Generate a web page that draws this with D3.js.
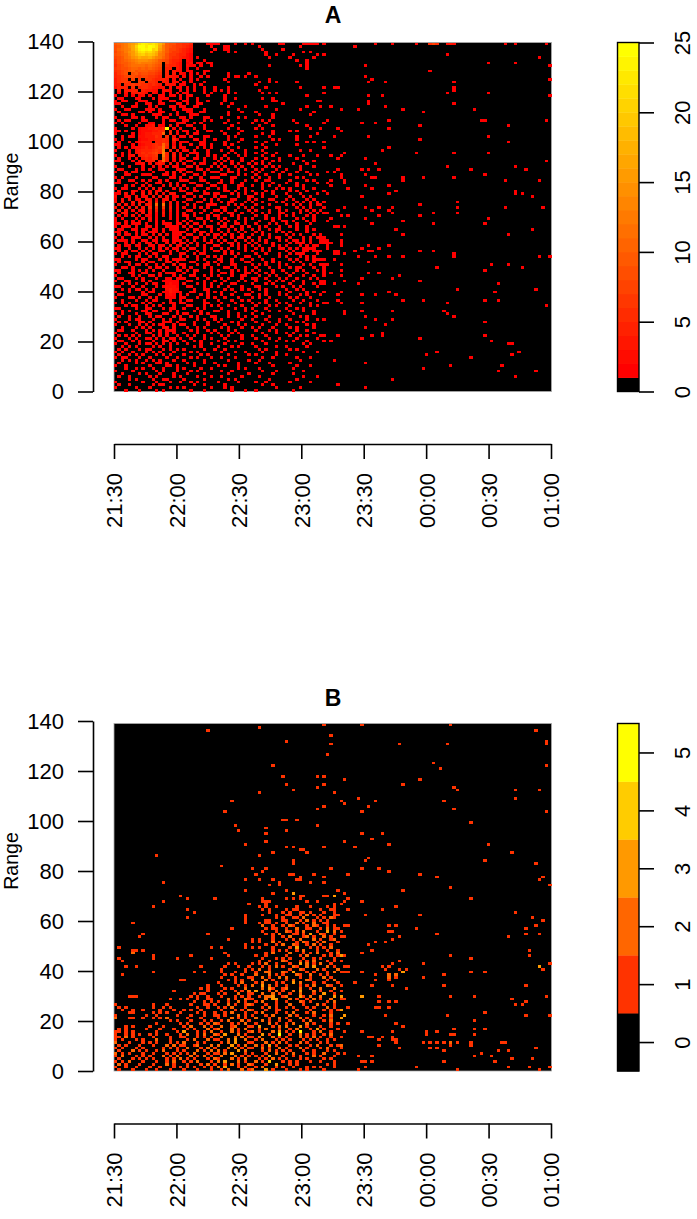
<!DOCTYPE html>
<html>
<head>
<meta charset="utf-8">
<script src="https://cdn.jsdelivr.net/npm/d3@7"></script>
<style>
  html, body { margin: 0; padding: 0; background: #fff; }
  text { font-family: "Liberation Sans", Arial, sans-serif; fill: #000; }
</style>
</head>
<body>
<div id="root"></div>
<script>
const timeLabels = ['21:30', '22:00', '22:30', '23:00', '23:30', '00:00', '00:30', '01:00']
const rangeTicks = [0, 20, 40, 60, 80, 100, 120, 140]
const legendTicksA = [0, 5, 10, 15, 20, 25]
const legendTicksB = [0, 1, 2, 3, 4, 5]
const GRID = 128

// counts per time bin, top row first, '.' = 0, a = 10 ... p = 25. spaces are only for reading
const leftA = [
'9abcefhlnm lmkhe98866 554....111 1....1..1. 1.......11 .....11111',
'89bcegkpom pnlgc98766 543.....1. ..11...... ..1....... ....1.....',
'8abcdgjnpn oklfc97765 432......1 ..11...... ...1.....1 ..........',
'79acefilmk ljhdb97665 432.....1. ...1.1.... ....1..... .....1.1..',
'89abdfhjki jigcb86654 421....... .......... ....1..1.. ..1......1',
'789bcefhgg hfdca86554 321.1..... .......... .....1.... .1......1.',
'689abcdeee dcb9875443 .21...1... .......... .......... ...1..1...',
'6899abcdcc cba9.75432 .12.11.11. .......... .......... ......1...',
'5789abbbba ba98.54432 .211.1..1. .......... .....1.... ....1.1...',
'67889aa9a9 a987.44.32 .1..1..... .......... .......... ......1...',
'56789a8999 8876.4.322 .21...11.. .......... .......... ..........',
'4678.89788 7765.4.3.2 1.1.1.1... ...1.....1 .......... ..........',
'4567787677 6654.4322. 2.1..1.1.. ...1.11.1. .1........ ..........',
'3566.7.6.6 654443.2.1 ..1.1..... ..1....... .....1.... ..........',
'35665..66. 554.33.22. 1.1...1... ...1...... ..1..1.1.. ...1......',
'34.5565655 4543.322.1 1..1.1.... .......... .1........ ..........',
'2444.5.455 43322.2.11 .1.1..1..1 ...1...... ....1..... ....1.....',
'.3.3344.43 322.221..1 .1.1..1..1 .1.1...... ..1....... ..........',
'.1.2.33432 .21.1.1.1. 11....1.1. ...1.1.... ...1.1.1.. ..........',
'1..1.1.12. 1..11.11.1 .11....1.. ..1....... .......... ......1...',
'.11...11.. .1.111...1 .1..1..... ..1..1.... ...1..1... ..........',
'1.11...111 ...1..11.. 11..1..1.. ..1....... ......11.. .........1',
'11....1..1 1..11...11 .1..11.... .1..1..... .........1 ..........',
'..1..11... 1.1...11.1 1..11..... ...1....1. ....1..... ......1...',
'1..11....1 11.1...1.. 111...1... ......1... .......1.. ....1.....',
'.1.....11. 1..11...1. .11..11... ...1...1.. .1........ ........1.',
'..11.1.... .111..1.1. ..111..... ...1...... ..1...1... .......1..',
'1....11.1. ..1.11...1 1.1...11.. .1....1.1. ......1... ..........',
'.1.11...11 ....1.11.. 11....1.1. ...1...... .1.1.1.... ..1.......',
'1.1....1.. 11..1...11 1..1.1.... ..1...1... 1...1..... ...1......',
'...1..1..2 23.11.2.1. .11...1... ....1..... ..1...1... ......1...',
'1....1.122 33434o.1.1 ...1..1... ...1..1... .1.1...... .......1..',
'11.1...122 23345.4.1. 11..1..11. .1.....1.. ......1... .1.1......',
'1....1.123 3444a.4.1. .1.11..... ..1...1... ...1..1... .........1',
'..1.11.223 3354.5.2.1 1.1...11.. ...1.1.... .1...1.... ...1...1..',
'1.1....122 334454.41. ...11.1..1 ...1...1.. ......1.1. ...1......',
'.1..1.1233 3.4454.2.1 11...11... ..1...1... .1..1..... ......1.1.',
'11...1.123 3454a5.1.1 ..1..11.1. ..1.1..... ...1...1.. ...1......',
'.1.1.12234 3456b4.3.1 1...1.1.1. ...1..1... .1..1..... ..........',
'1...1.2344 4565c.3.2. 11.1...1.. .1..1...1. ...1...... ....1..1..',
'..1.1.2354 5674d4.2.1 ..111..1.. ...1.1..1. .1..1..1.. ..........',
'1.1.22.345 456.c4.3.1 .1..1..1.1 ..1...1.1. ...1..1... .1...1...1',
'.1..1.1.34 355.a4.2.1 1..11.1..1 .1.1...1.. .1..1...1. ...1......',
'11...1.2.3 34.3a3.1.1 .11...1... 1.1.1..1.. 1..1..1.1. .....1..1.',
'..1...112. 2.132.2.1. 1..1.11..1 .1..1.1..1 .1.1.1.... ..1...1...',
'1...1...1. .1.1.1.11. .11.1...1. 1.1..1.1.. 1...1.1.1. ....1...1.',
'.11...1.1. 1..11...11 1...11.1.. .1.1..1.1. .1.1...1.. 1...1.....',
'1..1.11... .1...1.2.1 .11...1.11 1..11.1... 1.1...1..1 ...1..1...',
'...11...11 1...11.1.. 1..11.1... .11...1.1. .1..1...1. .1.....1.1',
'1.1...1... .11...11.1 ..1..1..11 1...11.... 1.1..1..1. ...1.1....',
'.1..11..1. 1..1.1...1 11...11... .1..1...1. .1..11.... .1....1.1.',
'11....1..1 ..11..1.1. ..11...1.. 11..1..1.. ...1..1... 1..1.....1',
'...1.1..1. 1...1.2.1. 1...11..11 ..1...11.. 1..1.1..1. ...1.1....',
'1.11...1.1 .2.1...1.1 .1.1...1.. 1.1...1.1. ...1...1.1 .1...1..1.',
'.2...21.1. 1.12.2...1 1..11.1... ..11.1..1. 1...1.1... .1.1..1...',
'11.2.1..2. 2.2.1.22.. .11...11.1 1...1.1.1. .1.1..1... 1...1....1',
'2..11.2.12 .2.2.2.11. 1..1.1...1 .11...1..1 1..1...1.. .1...1.1..',
'1.2.2.11.2 2.1.22.1.. .11...1.1. 1...11...1 .1...11... 1.1...1.1.',
'2.2..3.21. 3.3.3.2.1. 1...11..1. .1.11...1. 1..1...1.1 ...1.1.1.1',
'.2.2.1.3.2 3.a.b.2.1. .1.1...111 ...1.1.1.. .1...1.... 1.1.1..1.1',
'2.1.2.3.2. 5.5.6.3.1. 1..1.1.1.. .11...1.1. 1..1...11. ...1.1.1..',
'.3.2.1.12. 2.3.2.2.1. .11...1..1 1.1..1...1 .1...1..1. 1...1.1.1.',
'1.22..1.2. 2.1.3.1.1. 1..1.1..1. .1.11..1.. 1..1.1..11 ..1.1..1.1',
'.1.1.2.1.1 1.1.2.1.1. 11.1...1.1 1...1.1... .1..1...1. 1.1...1.1.',
'1.1...1.1. 2.1...1.1. .1..11.1.. 1.1...1.1. 1...1.1.1. ...1.1..1.',
'1..1.1.1.. 1.1.1...1. 1.1...1.1. .1.1.1..1. ..1...1..1 1.1...1.1.',
'11.1.111.1 ..1.111.11 .1.11.1... 1.1..11.1. .1...1.1.. 1..1...1..',
'1.111.1..1 1.1..1111. 1.1..1.11. .11.1..1.1 ..1.1...1. .1.1..1...',
'.11..11.11 .11.1.111. .1.11...1. 1..1.1.1.. 1.1..1.11. ...1..1.1.',
'11.1..1.1. 111.1..111 1..1.11.1. .1.1..1.1. .1.1...1.1 .1....1...',
'.1.11.1.11 .1.2.1.111 .11..1.1.1 1.1.1..1.. 1..1.1.... 1.1.1...1.',
'1.1..111.. 1.1.1..11. 1..11.1..1 .1..1.11.1 ..1..1.11. .1...1.1.1',
'.111.1..11 .11.11.111 .1.1..1.1. 1.1..1..1. 1.1.1...1. 1.11.1.1..',
'1..1.1.1.1 1.1..1.1.1 1.1.1..11. .1.11.1..1 .1..1.1... .1.111.1..',
'.1.11.11.. 11.11.2.11 .1..1.1..1 1...1.1.1. 1.1...1.1. 1...1.1.11',
'11..1..1.1 .1.1.1.11. 1.11..1.1. .1.1..1.1. .1.1.1..11 .1.1.1111.',
'.1.1.11.1. 1..11.1.1. .1..1.1..1 1.1.1...1. 1..1.1.... 1.1..11.11',
'1.11...1.1 .11...1..1 1..1.11... ..1.1.1... .1..1...1. .1.111...1',
'..1.1.11.. 1.1.11...1 .1..1..1.1 .1...1..11 ..1.....1. 1...1.1.1.',
'11....1.11 ...2.1.111 1...1.1... 11..1..1.. 1..1..1... .1.1..1.11',
'.1.11...1. 11...11.1. ..11...1.1 .1..1...11 ....1.1.1. ..1.1...1.',
'1...1.11.1 ..1.1..2.1 1...1.11.. 1...11.... 1.1.1...1. 1....1.1..',
'..11.1.... 1.11.1..1. 1.1...1.1. ..11.1..1. .1...1..1. .1.11...1.',
'11...1.1.1 .1..1...11 .1.11...1. 1...1.1.1. 1.1...1..1 ...1.1...1',
'.1..11..11 ...1.111.. 1..1....1. .11.1...11 .1..1.1... 1.1...1...',
'1....1.1.. 11.1...1.1 ..11..1.1. 1...1..11. ..1..1.1.. .1...1..1.',
'.11...1.1. ..1..11.11 1...1..1.. .1.1...1.. 11..1...1. 1..1...1.1',
'1..11...1. 1...11111. .11...1..1 ..1...1.1. .1...1.1.1 ..1..1....',
'..1.1.1..1 .11..1211. 1...1.1.1. .1..11.... 1...1.1... .1...1..1.',
'11...1..1. ..1.12221. .11...1.1. 1..1...1.. .11....1.1 ..1.1....1',
'..1.1.11.1 .1...2322 ....1..11. ...1.1..1. 1..1.1.... .1..1.1...',
'1...1...1. 11..11321 1..11...1. 1.1...1... .1...1...1 ..1....1.1',
'.11.....11 ...1.121.1 .1...1.1.. .1..1...11 ..1.1...1. 1...1.1...',
'1...11.1.. 1.1..111.1 1...1..1.1 ..1...1... 1.1..1.... .1.1...1..',
'..1...1..1 .11...1..1 .11...1... 1...1..1.1 ....1..1.. ..1..1...1',
'1.1.1...1. 1...1.11.1 1.....11.. .1...1.... 1.1.1...1. 1...1..1..',
'...1.11..1 .1.1...1.. .11...1.1. 1..1...1.. .1...1.1.. .1.....1.1',
'11....1..1 1...1.11.. 1...1.1... .1...1..1. 1...1..... 1..1.1....',
'..1.1...11 .11...1.1. ...1.1...1 1..1....1. .1...1..1. .1...1..1.',
'1.1...1..1 1...11..1. 11...1.1.. ...1..1... 1..1...... ..1.....1.',
'.1..1..1.. 1.11...1.1 ..1.1...11 ...1..1.1. .1...1.... 1...1.1...',
'1...1.11.. .1..1.1..1 1...1.1..1 .1.....1.. 1...1...1. .1....1..1',
'.1.1...11. 1...111.1. ...1...1.. 1...1.1... .1...1..1. ...1.1....',
'1...1..1.1 .1.11..1.1 1..1...1.. ..1...1.1. ...1...1.. 1.....1.1.',
'..1...1.1. 1...12.1.. .1..1.1... .1.1...1.. 1.1...1... .1.1....1.',
'.11..1...1 .1.1.111.. ..1.1..1.1 ...1.1.... .1...1.1.. ...1..1...',
'1.....1..1 1..1.1.1.. 1...1...1. 1...1.1... ...1...1.. 1.1.....1.',
'.1.1.1.1.. .1.1.1..1. .1.1..1... .1.1...1.. 1...1..... .1..1.1...',
'1...1.1..1 1.1.1.11.1 ..1...1.1. ..1....1.. .1...1..1. ...1.....1',
'.11..1.1.. .1..12.1.. 1..1.1.... 1..1.1.... ...1...1.. 1.1...1...',
'1..1...1.1 1.1.1.1.1. .1...1..1. ..1....1.. 1...1..... .....1.1..',
'..1.1.1... .1.1..1... ...1.1.... 1...1.1... .1.....1.. 1.....1...',
'.1.1...1.1 1...1.1.1. 1.....1..1 ..1....... ..1.1..... .1.1......',
'1.1..1...1 .1.1...1.. ..1.1..... .1...1..1. ...1...1.. .....1...1',
'.1..1.1.1. ..1.1.1... 1....1.1.. ...1.....1 .1.....1.. 1.........',
'1.11...1.. 1....1..1. ..1.1...1. .1...1.... ...1..1... ...1...1..',
'..1.1.1..1 .1.1...1.. 1.....1... ...1.....1 ..1....... ....1.....',
'.1....1.1. ..11.1.... .1.1..1..1 ......1... .1...1.... .1........',
'1..1...... 1....11.1. ...1...... 1.1...1... ......1... ...1...1..',
'...1..1.1. .1..1...1. 1....1..1. ......1.1. ..1....... ..1.......',
'1....1.... ..1.1...1. ..1.1..... .1..1..... ...1...1.. .....1....',
'..1....1.1 ...1...1.. .1....1... ...1.....1 ......1... ..1.......',
'.1..1..... 1.1....1.1 ....1...1. .1.....1.. ..1....... .....1...1',
'....1.1... .1..11.... 1.....1... ...1.1.... .....1.... ...1......',
'1.......1. ..1...1..1 ..1.1..... 1.....1... .1..1..... .1.....1..',
'.1..1..... .1.11..... ...1..1... ..1....... ...1..1... ..........',
'1.....1... 1.....1.1. 1.......1. ..1.1..... .......1.. ....1.....',
'...1...1.. ..1.1..... ..1...1... ....1...1. .1........ ..1.......'
]

// [row, [columns with a count of 1]] for the thin right side of A
const rightA = [
[0,[61,76,81,88,92,93,94,97,98,99,114,117,126]],[1,[70]],[4,[61,97]],[5,[124]],[7,[109,117]],[8,[73,127]],[10,[92]],
[12,[73]],[13,[75,127]],[14,[74,79,99]],[16,[61,64,65,99]],[17,[99]],[18,[61,97,109]],[19,[74,78,127]],[21,[60,74]],[22,[74,99]],
[23,[60,63,79]],[24,[66,71,84,105]],[25,[90]],[28,[62,80,107,108,126]],[29,[61,72,76]],[30,[89,115]],[31,[60,65,80]],[32,[66]],
[34,[64,74,109]],[35,[89]],[36,[61,115]],[38,[61,80]],[39,[78]],[40,[67,88,99,109]],[41,[63,66]],[42,[65,73]],[43,[126]],[44,[76]],
[45,[97,117]],[46,[65,72,74,77,104,120]],[47,[62,64]],[48,[66,73,108]],[49,[66,75,76,84,90,99]],[50,[63,67,84,114,124]],[51,[62,67]],
[52,[63,73,80]],[53,[68,75]],[54,[61,82,117]],[55,[62,80,117,119]],[56,[72,122]],[58,[61,100]],[59,[60,89]],[60,[61,67,73,77,81,100,114,125]],
[61,[60,65,75,80]],[62,[61,62,81,93,100]],[63,[66,68,77,89]],[64,[63,73,109]],[65,[62,84]],[66,[75,93,108]],[67,[64,65,67]],[68,[82,122]],
[70,[60,66,84,115]],[71,[60,61]],[72,[60,61,62,66]],[73,[60,61,62,63,66]],[74,[62,66,74,80]],[75,[62,72,77]],[76,[60,64,65,70,74,75,89,93]],
[77,[64,65,67,99]],[78,[71,76,80,84,99,124,127]],[79,[60,61,64]],[80,[74]],[81,[60,61,62,66,110,115]],[82,[61,94,119]],[83,[61,66,108]],
[84,[61,63,74,77]],[85,[61,66,83]],[86,[72,81]],[87,[60,61,67,89]],[88,[60,61,64,71,112]],[90,[100,123]],[91,[61,66,80,111]],[92,[60,65,72,76,82]],
[94,[65,84,90,108,112]],[95,[61,62,66,72,97]],[96,[126]],[98,[67,72,81,96]],[99,[67,97]],[100,[73,99]],[101,[61,76,81]],[102,[108]],[103,[79]],
[104,[73]],[106,[78]],[107,[60,61,65,75,78,108]],[108,[72,89]],[109,[61,63,110]],[110,[115,116]],[113,[94,118]],[114,[91,116]],[115,[104]],
[116,[64]],[117,[73]],[118,[98,113]],[119,[90]],[120,[112,123]],[122,[117]],[123,[81]],[125,[65]],[126,[73]]
]
const hotA = [[0,92,5],[0,93,7],[0,94,5],[0,97,2],[0,98,3],[0,99,2]]

// B, rows 67 and down, columns 0-65
const leftB = [
'.......... .1........ .......... .......... ..1.1..1.. ...1...1.. ..1.1.',
'.......... .......... .1........ .......... ...1.1.... 1.11...... 1..11.',
'.......... .......... ...1...... .......... .....1...1 .1..11.1.. .1..1.',
'.......... .......... .......... ........1. ...1...1.. 11..1.2.1. 1...11',
'.......... .......... .1........ ........1. .......1.1 ..11.2...1 .1.21.',
'.......... .......... .......... ........1. ....11...1 1...1.2.1. 1.1...',
'.....1.... .......... .......... ........1. ..1.11.1.. 1..2.1..2. .11...',
'.......... .......... .......... .......... ...2..1..1 .21...1.21 ..1.1.',
'.......... .......... .......... ....1..... ....1.11.. 1..2..11.. 1.2.11',
'.......... .......... .......... .......... ...1...1.. 21.1.2...1 ..3.2.',
'........1. .......... .......1.. .......... ....1.1.2. ..11.1.3.. 21..1.',
'.......1.. .......... .......... .......... ......1..1 .2...12.1. .2.1..',
'.......... .......... .......... ...1...... 1.1...1... 1.1.2...2. 1..12.',
'.......... .......... .......... .......... 1.1...2.1. ...1.21..1 .2...1',
'.......... .......... .......... ........1. ....1..1.2 ..21..1.2. 1..1..',
'.1........ .......... ........1. .1......1. 1.1...1... .1.3...1.1 .1.2..',
'.....11.1. .......... .......... .......... ......1.1. 1..1.2...1 ..1..1',
'.....2.... .......... .......... ..1....... ....1.2... .2...1.1.2 ...1.2',
'.......... .1........ ..1....... ...1...... .1..1..... 1...1.2... .1.1.1',
'.1........ .1......1. ........1. .......... ...1...1.1 .1...1..1. 1...1.',
'..1....... .......... .......... .......... ..1..1...2 1...1.1.2. ..1.1.',
'.......... .......... .......... ...1.1.... 1.1.2..1.. .1..3.2.1. 2..1..',
'...1..1... .......... .....1.... ..1...1..1 ...1.1.2.1 ..21..2.3. ..2.1.',
'.......... .......... .......... .1......1. 1.2..1.... .1..21...2 .1...2',
'.......... .1........ ...1..1... .1...1..1. .1..22...2 1.3...1.1. ..1.2.',
'..1....... .......... .......... ..1.1..1.. .2...2.1.1 ...21..2.. 1.1...',
'.......... .......... .......... .1...1...1 1..2.1..2. 2...1..1.. .2.1..',
'.......... .........1 1......... ...1.1.1.. 2...2.1... 1.2...21.. ..1.2.',
'.......... .......... .......... 1....1.2.. .1.2...1.1 ..3.2...1. .1...1',
'.......... .......... .......1.. .1....1.1. 2..3.2.1.. 1...1.1.2. ..21..',
'.......... .......... .....1.1.. ..1.1...2. ...2.31..1 2...2..1.. 2...2.',
'.......... .......1.. .......1.. .1...1.1.2 .3...1.2.1 ..2.3...2. 1..1..',
'.......... .......... ...1.11... 1.1...2..1 1..2..2.1. .1..2...1. .3..1.',
'....111... .......... ..1.1..1.. .1...1.1.1 ..1.223..1 2...31.2.. 2...3.',
'.......... ......1..1 .1..1..11. ...2.1..21 1...2.33.. .2.1..1.2. 1..2..',
'.......... .......... ...1..1.1. 1..1..2.1. .1.2...1.. 1...21.1.. ..1.2.',
'1......... .1...1.... ..1...11.1 ...2.1..12 1...1..1.. .2...1...2 .1..1.',
'.1.1...... .1..1.1... ....1..1.. 1.1.2...1. ...1.2.1.. 1.1...1.1. ..2.1.',
'..1..1..1. ...1...1.. 1.1..1.... .1...1.1.2 1...1..11. ...1...1.. .1.1.1',
'....11.... .1.1.1...1 ....1.1..1 ..1.2...1. .1.2...1.. 1.2...1.2. ...1..',
'1........1 ..1.....1. ..1...1..1 1.1...2.1. 1...1.2... .2.1....1. .1.2..',
'2...11..1. .1.1.2.... .1...1.... 1...2.1.1. .2...1..2. 1...2.1... 1..1..',
'.......... ......1.1. ..1...1.1. .1.2...2.1 ...2.1..1. .1...1.2.. .1.2..',
'.......... ..1......1 .1...1.1.2 1...1.1.2. .1...2.1.. 1.2...2.1. ...1.1',
'...1.1.... 1...1..... 1.2...2.1. .2..12...1 1.3...1.2. 2...3.1... 1..1..',
'.1.1.....1 ...1...1.. .1.1...2.1 2...2.1.2. ..1.2...1. .1.2...1.3 .1...1',
'11.1.1.... ..1.....1. 3...1.1.2. .1..2.1..1 2.1...2.3. 1.1.5...1. 2..1..',
'1..1.1.1.. 1.1..1...1 .2..1.2..2 1.3...2.1. ...3.1..5. .1..2.1.1. .1.2..',
'11.2.1.... .1....1..1 1...1.1.1. .2...2.2.1 1.2...2.1. 1...2.1.2. 1..1..',
'1.1...1.1. ..2...1... .1.2...2.1 1..2.3..2. .1.2...1.1 .1...1.1.1 ..1.1.',
'2...1...1. 1.1...1.1. 2...1.1... .1.2.3...1 1...2.1.2. 1...2.1... 1.1...',
'.1.1...1.. .1...2.2.1 1..12...2. 2...3.1.2. .2.1.3.1.. .1.1...1.2 ...1.1',
'1.1...1.1. ....1.1.1. .2...1.2.1 ...2.2.1.1 1..2.1..2. 1...2.1... 1.2...',
'.1...2.1.1 ..1.2...1. 1...2.1.2. 2.1...3.2. ...1.2.1.1 .1...1..1. ..1.1.',
'2.1.1...1. .1...1.1.1 .1.2...1.1 1.2.3...1. 1...1..2.. 1.2...1.1. .2...1',
'1.2...1.1. 1...2.1.2. ..2.1.2.1. .2...2.1.1 .1.1.3...1 ..1.1...2. 1...1.',
'.1...1.1.1 .1...1.1.2 .1.1...1.2 1...2.1.2. ..1.1.2.1. 1...1.1... .1.1..',
'1.1.2...1. ..1..1.2.. 1.1.2...1. 2.3...2.1. .2.1.4...1 .1.1...1.. 1...1.',
'.2.1...1.. .1...2.1.. .1...1.2.1 ..1.2.1..2 1...1..3.. .1.1...... ..1.1.',
'1..1..1... 1..1...1.1 .1.1..1.1. 2.3...1.1. .1.2...1.1 ..1...1.1. 1...1.',
'.1...1...1 ..1...1... 1...1...1. .1.2...2.1 2...3.1... 1...1.1... .1....'
]
const leftBStart = 67

// [row, [columns with a count of 1]], rows 0-66 all columns, lower rows columns 66+
const sparseB = [
[0,[61,72,98]],[1,[42]],[2,[27,123]],[4,[63]],[6,[50,126]],[7,[63,83,97,126]],[11,[62]],[14,[93]],[15,[46,126]],[16,[95]],[19,[49,59,61]],
[20,[67,89]],[22,[50,61,84]],[23,[59,99]],[24,[52,100,117,124]],[25,[42,64]],[27,[71,117]],[28,[34,66,76,96]],[29,[67]],[30,[61,74]],
[31,[59,99]],[32,[32,72,126]],[35,[49,50,53]],[36,[104]],[37,[35,59]],[38,[44]],[39,[36,50]],[40,[44,72,78]],[42,[75]],[43,[44,67]],
[44,[38,80,109]],[45,[50,52,61,70]],[46,[54,55]],[47,[46,56,116]],[48,[12,42]],[49,[74]],[50,[52,73,108]],[51,[52,123]],[52,[31]],
[53,[40,44,63,72,77]],[54,[43,80]],[55,[41,51,52,58,68,89]],[56,[54,61,94,125]],[57,[38,42,46,53,54,124]],[58,[14,48,57,61]],[59,[45,48,127]],
[60,[98]],[61,[38,50,65,84]],[62,[46,52,67]],[63,[19,54,55,61,62,64]],[64,[21,29,43,50,52,54,68,104]],[65,[14,43,44,45,56,59,67,72]],
[66,[39,44,64,66]],[67,[82]],[68,[68,78]],[69,[117]],[70,[73,89]],[71,[122]],[72,[125]],[74,[67,68,80,82,123]],[75,[88,120]],[76,[66,80,81]],
[77,[94,120,124]],[78,[66,67,83,115]],[79,[81]],[80,[76,79]],[81,[74]],[83,[75,121]],[84,[72]],[85,[66,67,98,121]],[86,[104]],[87,[66,83]],
[88,[81,90,127]],[89,[67,68,78,80,124]],[90,[79,83,85,125]],[91,[66,67,68,72,84,104,108]],[92,[76,80,82,96]],[93,[80,82,90]],[94,[76,80]],
[95,[70]],[96,[66,75,81,96,120]],[97,[85]],[98,[66]],[100,[66,72,77,98,105,126]],[101,[66,67,116]],[102,[77,80,82,120]],[103,[117,119]],
[104,[68,76,77,80]],[105,[66]],[106,[108]],[107,[67,79,97,120,127]],[108,[66]],[109,[105]],[110,[68,82]],[111,[84]],[112,[99,105,108]],
[113,[67,72,81,91,94]],[114,[91,98,99,105]],[115,[66,74,75,78,81]],[116,[77,81,82]],[117,[82,90,92,94,96,98,100,104,113,114]],[118,[66,77,98,104]],
[119,[66,83,92,94,123]],[120,[96,112,115]],[121,[67,107]],[122,[71,75,105,110]],[123,[116,122]],[124,[72,73,75,96,111]],[126,[73,88,115,121,127]],
[127,[71,100,124]]
]
const hotB = [[62,52,3],[63,64,3],[85,66,3],[89,124,3],[91,84,3],[100,66,3],[100,72,3],[105,66,3],[107,67,3],[108,66,3],[117,98,2],[118,66,2],[92,80,2],[93,80,2],[92,82,2]]

const svg = d3.select('#root').append('svg')
  .attr('width', 697)
  .attr('height', 1219)
  .style('display', 'block')

function parseRow(str) {
  return Array.from(str.replace(/ /g, '')).map(ch => ch === '.' ? 0 : parseInt(ch, 36))
}

function buildCells(left, leftStart, sparse, hot) {
  const byKey = new Map()
  left.forEach((str, i) => {
    parseRow(str).forEach((v, col) => {
      if (v > 0) byKey.set(`${i + leftStart}-${col}`, { row: i + leftStart, col, v })
    })
  })
  sparse.forEach(([row, cols]) => {
    cols.forEach(col => byKey.set(`${row}-${col}`, { row, col, v: 1 }))
  })
  hot.forEach(([row, col, v]) => byKey.set(`${row}-${col}`, { row, col, v }))
  return Array.from(byKey.values())
}

function styleAxis(g) {
  g.selectAll('path, line').attr('stroke', '#000').attr('stroke-width', 1.6)
  g.selectAll('text').style('font-size', '22px').attr('fill', '#000')
}

function drawPanel(opts) {
  const g = svg.append('g')
  const x = d3.scaleBand().domain(d3.range(GRID)).range([114, 551.5])
  const y = d3.scaleBand().domain(d3.range(GRID)).range([opts.top, opts.bottom])

  // plot background is the zero colour
  g.append('rect')
    .attr('x', 114).attr('y', opts.top)
    .attr('width', x.bandwidth() * GRID).attr('height', y.bandwidth() * GRID)
    .attr('fill', '#000')
    .attr('stroke', '#aaa')
    .attr('stroke-width', 0.8)

  g.append('g')
    .style('filter', 'blur(0.4px)')
    .selectAll('rect')
    .data(opts.cells)
    .enter()
    .append('rect')
    .attr('x', d => x(d.col))
    .attr('y', d => y(d.row))
    .attr('width', x.bandwidth())
    .attr('height', y.bandwidth())
    .attr('shape-rendering', 'crispEdges')
    .attr('fill', d => opts.color(d.v))

  // y axis
  const yTick = d3.scaleLinear().domain([0, 140]).range([opts.bottom, opts.tick140])
  g.append('g')
    .attr('transform', 'translate(93,0)')
    .call(d3.axisLeft(yTick).tickValues(rangeTicks).tickSize(15).tickSizeOuter(0).tickPadding(14))
    .call(styleAxis)

  // time axis
  const xTime = d3.scalePoint().domain(timeLabels).range([114, 551])
  const axisX = g.append('g')
    .attr('transform', `translate(0,${opts.axisY})`)
    .call(d3.axisBottom(xTime).tickSize(15).tickSizeOuter(0))
    .call(styleAxis)
  axisX.selectAll('text')
    .attr('transform', 'rotate(-90)')
    .attr('text-anchor', 'end')
    .attr('x', -29)
    .attr('y', 0)
    .attr('dy', '0.36em')

  g.append('text')
    .attr('transform', `translate(18,${opts.bottom - 210}) rotate(-90)`)
    .attr('text-anchor', 'middle')
    .style('font-size', '19.5px')
    .text('Range')

  g.append('text')
    .attr('x', 333)
    .attr('y', opts.titleY)
    .attr('text-anchor', 'middle')
    .style('font-size', '23px')
    .style('font-weight', 'bold')
    .text(opts.title)

  // colour key
  const key = d3.scaleLinear().domain(opts.keyDomain).range([opts.bottom, opts.top])
  g.append('g').selectAll('rect')
    .data(opts.keyBands)
    .enter()
    .append('rect')
    .attr('x', 617.5)
    .attr('y', d => key(d.hi))
    .attr('width', 21.5)
    .attr('height', d => key(d.lo) - key(d.hi) + 0.4)
    .attr('fill', d => d.color)
  g.append('rect')
    .attr('x', 617.5).attr('y', opts.top)
    .attr('width', 21.5).attr('height', opts.bottom - opts.top)
    .attr('fill', 'none').attr('stroke', '#000').attr('stroke-width', 1.4)

  const keyAxis = g.append('g')
    .attr('transform', 'translate(639,0)')
    .call(d3.axisRight(key).tickValues(opts.keyTicks).tickFormat(d3.format('d')).tickSize(15).tickSizeOuter(0))
    .call(styleAxis)
  keyAxis.select('.domain').remove()
  keyAxis.selectAll('text')
    .attr('transform', 'rotate(-90)')
    .attr('text-anchor', 'middle')
    .attr('x', 0)
    .attr('y', 43)
    .attr('dy', '0.36em')
}

const colorA = v => d3.rgb(255, Math.min(255, (v - 1) * 255 / 23), 0).formatHex()
const colorB = v => d3.rgb(255, Math.min(255, v * 51), 0).formatHex()

drawPanel({
  title: 'A', titleY: 23,
  top: 42.5, bottom: 391.5, tick140: 41.5, axisY: 444,
  cells: buildCells(leftA, 0, rightA, hotA),
  color: colorA,
  keyDomain: [0, 25],
  keyTicks: legendTicksA,
  keyBands: [{ lo: 0, hi: 1, color: '#000' }].concat(d3.range(1, 25).map(v => ({ lo: v, hi: v + 1, color: colorA(v) })))
})

drawPanel({
  title: 'B', titleY: 706,
  top: 723.5, bottom: 1071, tick140: 721, axisY: 1123.5,
  cells: buildCells(leftB, leftBStart, sparseB, hotB),
  color: colorB,
  keyDomain: [-0.5, 5.5],
  keyTicks: legendTicksB,
  keyBands: [{ lo: -0.5, hi: 0.5, color: '#000' }].concat(d3.range(1, 6).map(v => ({ lo: v - 0.5, hi: v + 0.5, color: colorB(v) })))
})
</script>
</body>
</html>
